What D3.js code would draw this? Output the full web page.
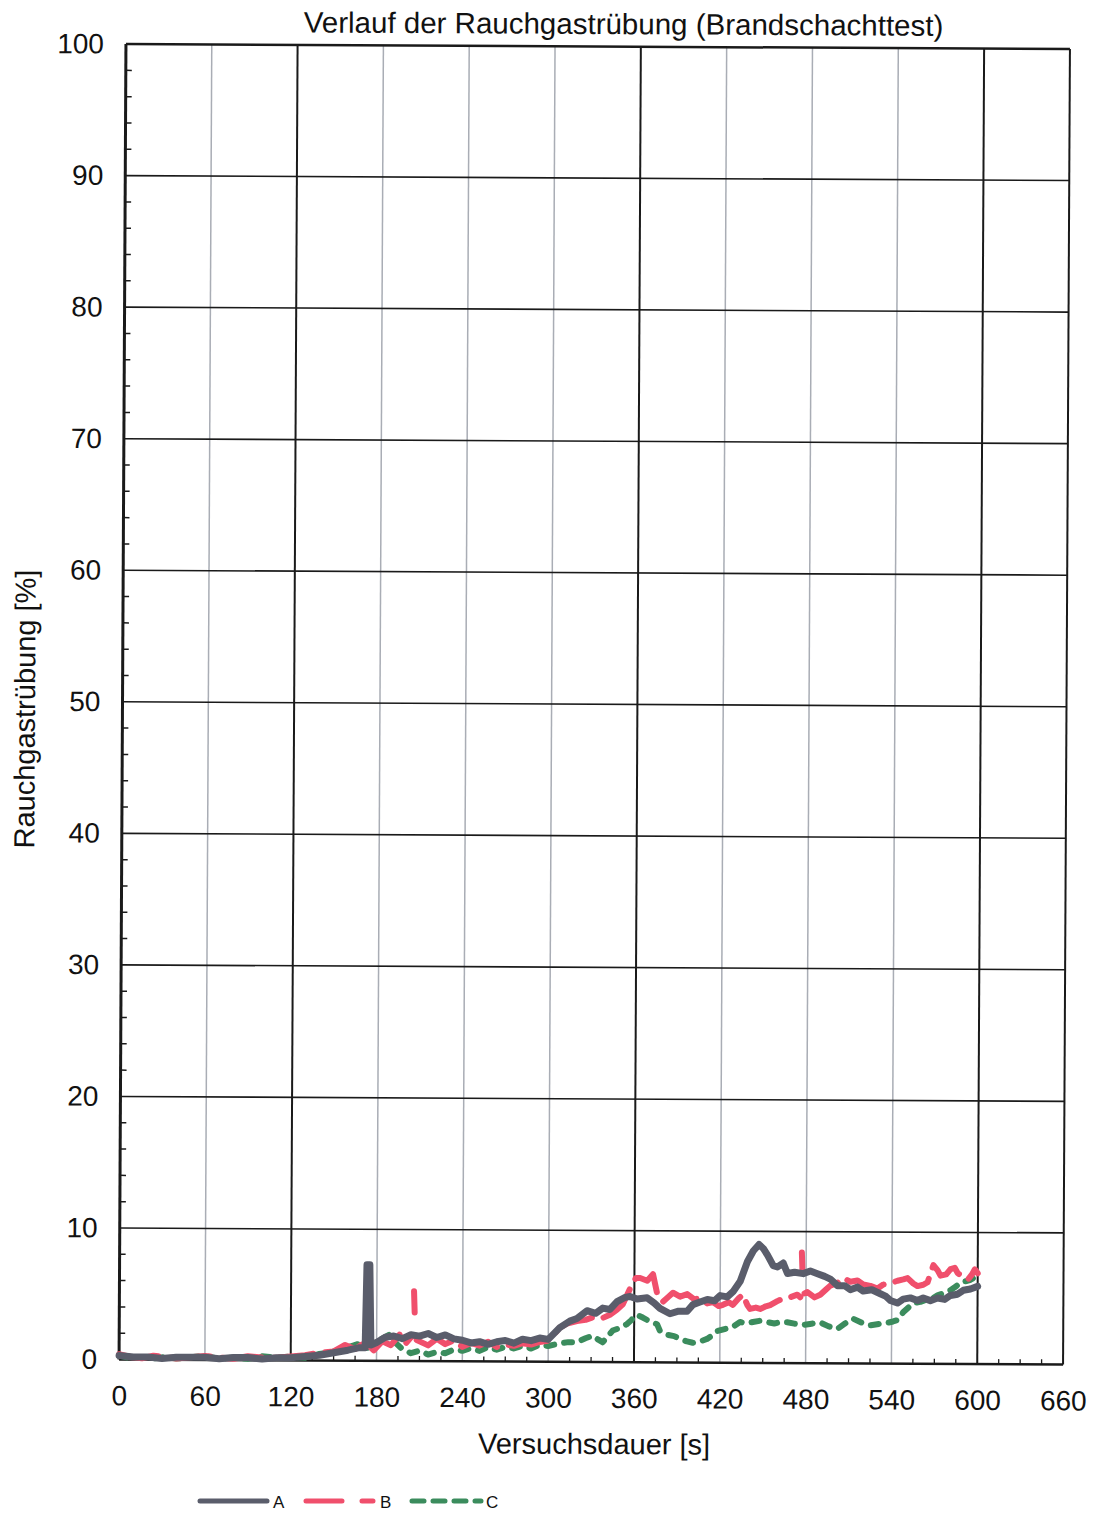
<!DOCTYPE html>
<html>
<head>
<meta charset="utf-8">
<script src="https://cdn.jsdelivr.net/npm/d3@7"></script>
<style>
  html, body { margin: 0; padding: 0; background: #fff; }
  svg { display: block; }
  text { font-family: "Liberation Sans", Arial, sans-serif; fill: #111; }
</style>
</head>
<body>
<svg id="chart" width="1094" height="1514"></svg>
<script>
// ---------- Data ----------
const chartTitle = "Verlauf der Rauchgastrübung (Brandschachttest)";
const xTitle = "Versuchsdauer [s]";
const yTitle = "Rauchgastrübung [%]";
const xTicks = [0, 60, 120, 180, 240, 300, 360, 420, 480, 540, 600, 660];
const yTicks = [0, 10, 20, 30, 40, 50, 60, 70, 80, 90, 100];
const xMajorDark = [0, 120, 360, 600, 660];
const seriesNames = ["A", "B", "C"];

// [time s, opacity %]; null = break in the dashed trace
const seriesA = [
  [0,0.3],[10,0.2],[20,0.2],[30,0.1],[40,0.2],[50,0.2],[60,0.2],[70,0.1],[80,0.2],[90,0.2],
  [100,0.1],[110,0.2],[120,0.2],[130,0.3],[140,0.4],[150,0.6],[160,0.8],[168,1.0],[172,1.0],
  [173,7.3],[175,7.3],[176,1.2],[180,1.4],[186,1.8],[192,1.9],[198,1.7],[204,2.0],[210,1.9],
  [216,2.1],[222,1.8],[228,2.0],[234,1.7],[240,1.6],[246,1.4],[252,1.5],[258,1.3],[264,1.5],
  [270,1.6],[276,1.4],[282,1.7],[288,1.6],[294,1.8],[300,1.7],[308,2.6],[315,3.1],[320,3.3],
  [327,3.9],[333,3.7],[338,4.1],[343,4.0],[348,4.6],[353,4.9],[357,5.0],[362,4.8],[369,4.9],
  [374,4.5],[378,4.1],[385,3.7],[391,3.9],[397,3.9],[401,4.4],[406,4.6],[411,4.8],[416,4.7],
  [420,5.1],[425,5.0],[429,5.4],[434,6.2],[439,7.7],[443,8.5],[447,9.0],[450,8.7],[453,8.2],
  [457,7.4],[460,7.3],[464,7.6],[467,6.8],[472,6.9],[478,6.8],[483,7.0],[488,6.8],[493,6.6],
  [497,6.4],[502,5.9],[507,5.9],[511,5.6],[516,5.8],[520,5.5],[526,5.6],[532,5.3],[536,5.1],
  [539,4.8],[544,4.6],[548,4.9],[553,5.0],[558,4.8],[562,5.0],[567,4.8],[572,5.0],[577,4.9],
  [581,5.2],[586,5.3],[590,5.6],[595,5.7],[600,5.9]
];
const seriesB = [
  [0,0.4],[8,0.2],[16,0.1],[24,0.3],[32,0.2],[40,0.1],[50,0.2],[60,0.3],[70,0.2],[80,0.1],
  [90,0.3],[100,0.2],[110,0.2],[120,0.3],[130,0.4],[140,0.6],[150,0.7],[158,1.2],[165,0.9],
  [172,1.4],[178,0.8],[184,1.5],[190,1.2],[196,2.0],[200,1.3],[204,1.8],[205,1.9],
  [206,null],[206,5.3],[206.5,3.7],[207,null],
  [208,1.6],[210,1.5],[216,1.2],[222,1.7],[228,1.3],[234,1.6],[240,1.1],[246,1.4],[252,1.2],
  [258,1.5],[264,1.1],[270,1.3],[276,1.2],[282,1.4],[288,1.3],[294,1.5],[300,1.6],[308,2.6],
  [313,2.9],[320,3.1],[326,3.2],[331,3.4],[337,3.3],[343,3.6],[348,4.0],[352,4.4],[357,5.6],
  [361,6.4],[364,6.4],[369,6.2],[373,6.7],[376,5.2],[380,4.6],[384,5.0],[387,5.3],[392,5.0],
  [397,5.2],[402,4.8],[406,4.9],[411,4.5],[415,4.6],[419,4.3],[422,4.4],[426,4.6],[429,4.4],
  [433,4.9],[436,5.2],[439,4.4],[441,4.1],[445,4.2],[448,4.1],[452,4.3],[455,4.4],[460,4.7],
  [464,4.9],[469,5.0],[474,5.2],[476,5.0],
  [477,null],[477,8.4],[477.5,6.9],[478,null],
  [479,5.3],[481,5.4],[486,5.0],[490,5.2],[494,5.6],[497,5.9],[502,6.1],[506,6.5],[511,6.2],
  [516,6.3],[520,6.0],[525,5.9],[530,5.7],[534,6.0],[539,6.1],[544,6.3],[548,6.4],[551,6.5],
  [555,6.1],[558,5.9],[562,6.0],[565,6.2],[569,7.5],[572,7.1],[574,6.7],[578,6.8],[581,7.2],
  [584,7.3],[586,6.9],[590,6.6],[593,6.4],[596,6.8],[598,7.2],[600,6.9]
];
const seriesC = [
  [0,0.3],[8,0.1],[16,0.2],[24,0.1],[32,0.2],[40,0.1],[50,0.2],[60,0.3],[70,0.1],[80,0.2],
  [90,0.1],[100,0.3],[110,0.2],[120,0.3],[130,0.2],[140,0.5],[150,0.7],[156,0.8],[162,1.1],
  [168,1.3],[174,1.0],[180,1.5],[184,1.7],[189,2.0],[194,1.3],[198,0.9],[204,0.6],[210,0.8],
  [216,0.5],[222,0.7],[228,0.6],[234,0.9],[240,0.8],[246,1.0],[252,0.8],[258,1.1],[264,0.9],
  [270,1.1],[276,1.0],[282,1.2],[288,1.0],[294,1.3],[300,1.2],[308,1.4],[314,1.5],[320,1.5],
  [326,1.8],[331,2.0],[335,1.7],[338,1.5],[342,2.0],[345,2.4],[350,2.6],[355,2.9],[358,3.2],
  [361,3.6],[364,3.5],[366,3.4],[371,3.1],[376,2.9],[378,2.4],[383,2.1],[388,2.0],[392,1.8],
  [397,1.6],[401,1.5],[406,1.6],[411,1.8],[415,2.1],[418,2.4],[425,2.6],[430,2.8],[434,3.1],
  [438,3.0],[443,3.1],[448,3.2],[453,3.1],[458,3.0],[462,3.1],[467,3.1],[472,3.0],[478,2.9],
  [484,3.0],[490,3.1],[496,2.8],[502,2.6],[507,3.0],[513,3.4],[519,3.1],[525,2.9],[531,3.0],
  [537,3.1],[541,3.2],[544,3.3],[548,3.9],[552,4.3],[555,4.6],[560,4.7],[565,4.9],[569,5.0],
  [572,5.2],[577,5.4],[581,5.6],[585,5.9],[588,6.2],[592,6.3],[595,6.4],[598,6.6],[600,6.7]
];

// ---------- Styles ----------
const colors = { A: "#5a5d6b", B: "#f04f6c", C: "#3b8c5d" };
const dashes = { A: null, B: "40,12", C: "8,10" };
const widths = { A: 7, B: 6, C: 6 };

// ---------- Scales ----------
const x = d3.scaleLinear().domain([0, 660]).range([122.5, 1066.5]);
const y = d3.scaleLinear().domain([0, 100]).range([1362, 46.5]);

const svg = d3.select("#chart");
const g = svg.append("g").attr("transform", "rotate(0.3, 594, 704)");

// Title
g.append("text")
  .attr("x", 620).attr("y", 34)
  .attr("text-anchor", "middle")
  .style("font-size", "29.5px")
  .text(chartTitle);

// Vertical grid (light / dark)
g.append("g").selectAll("line")
  .data(xTicks)
  .join("line")
  .attr("x1", d => x(d)).attr("x2", d => x(d))
  .attr("y1", y(100)).attr("y2", y(0))
  .attr("stroke", d => xMajorDark.includes(d) ? "#1a1a1a" : "#a9adb5")
  .attr("stroke-width", d => d === 0 ? 3 : (xMajorDark.includes(d) ? 2 : 1.5));

// Horizontal grid
g.append("g").selectAll("line")
  .data(yTicks)
  .join("line")
  .attr("x1", x(0)).attr("x2", x(660))
  .attr("y1", d => y(d)).attr("y2", d => y(d))
  .attr("stroke", "#1a1a1a")
  .attr("stroke-width", d => (d === 0 || d === 100) ? 2.5 : 1.6);

// Minor y ticks (every 2 %)
const yMinor = d3.range(0, 100, 2).filter(v => v % 10 !== 0);
g.append("g").selectAll("line")
  .data(yMinor)
  .join("line")
  .attr("x1", x(0)).attr("x2", x(0) + 6)
  .attr("y1", d => y(d)).attr("y2", d => y(d))
  .attr("stroke", "#1a1a1a").attr("stroke-width", 1.5);

// Minor x ticks (every 15 s)
const xMinor = d3.range(0, 660, 15).filter(v => v % 60 !== 0);
g.append("g").selectAll("line")
  .data(xMinor)
  .join("line")
  .attr("x1", d => x(d)).attr("x2", d => x(d))
  .attr("y1", y(0)).attr("y2", y(0) - 5)
  .attr("stroke", "#1a1a1a").attr("stroke-width", 1.3);

// Axis labels via d3 axes
const xAxis = g.append("g")
  .attr("transform", `translate(0, ${y(0)})`)
  .call(d3.axisBottom(x).tickValues(xTicks).tickSize(0).tickPadding(26).tickFormat(d3.format("d")));
xAxis.select(".domain").remove();
xAxis.selectAll("text").style("font-size", "28px").attr("fill", "#111").attr("font-family", "Liberation Sans, Arial, sans-serif");

const yAxis = g.append("g")
  .attr("transform", `translate(${x(0)}, 0)`)
  .call(d3.axisLeft(y).tickValues(yTicks).tickSize(0).tickPadding(22).tickFormat(d3.format("d")));
yAxis.select(".domain").remove();
yAxis.selectAll("text").style("font-size", "28px").attr("fill", "#111").attr("font-family", "Liberation Sans, Arial, sans-serif");

// Axis titles
g.append("text")
  .attr("x", 598).attr("y", 1454)
  .attr("text-anchor", "middle")
  .style("font-size", "29px")
  .text(xTitle);

g.append("text")
  .attr("transform", "translate(35, 712) rotate(-90)")
  .attr("text-anchor", "middle")
  .style("font-size", "29px")
  .text(yTitle);

// Series lines
const line = d3.line()
  .defined(d => d[1] !== null)
  .x(d => x(d[0]))
  .y(d => y(d[1]));

const allSeries = [
  { name: "A", data: seriesA },
  { name: "B", data: seriesB },
  { name: "C", data: seriesC }
];

// draw order: C, B, A (A on top)
[allSeries[2], allSeries[1], allSeries[0]].forEach(s => {
  g.append("path")
    .datum(s.data)
    .attr("d", line)
    .attr("fill", "none")
    .attr("stroke", colors[s.name])
    .attr("stroke-width", widths[s.name])
    .attr("stroke-linejoin", "round")
    .attr("stroke-linecap", "round")
    .attr("stroke-dasharray", dashes[s.name]);
});

// Legend
const legendItems = [
  { name: "A", x1: 200, x2: 267, tx: 273, dash: null },
  { name: "B", x1: 306, x2: 373, tx: 380, dash: "36,20" },
  { name: "C", x1: 412, x2: 481, tx: 486, dash: "12,9" }
];
const legend = svg.append("g");
legendItems.forEach(it => {
  legend.append("line")
    .attr("x1", it.x1).attr("x2", it.x2)
    .attr("y1", 1501).attr("y2", 1501)
    .attr("stroke", colors[it.name])
    .attr("stroke-width", 5)
    .attr("stroke-linecap", "round")
    .attr("stroke-dasharray", it.dash);
  legend.append("text")
    .attr("x", it.tx).attr("y", 1508)
    .style("font-size", "17px")
    .text(it.name);
});
</script>
</body>
</html>
